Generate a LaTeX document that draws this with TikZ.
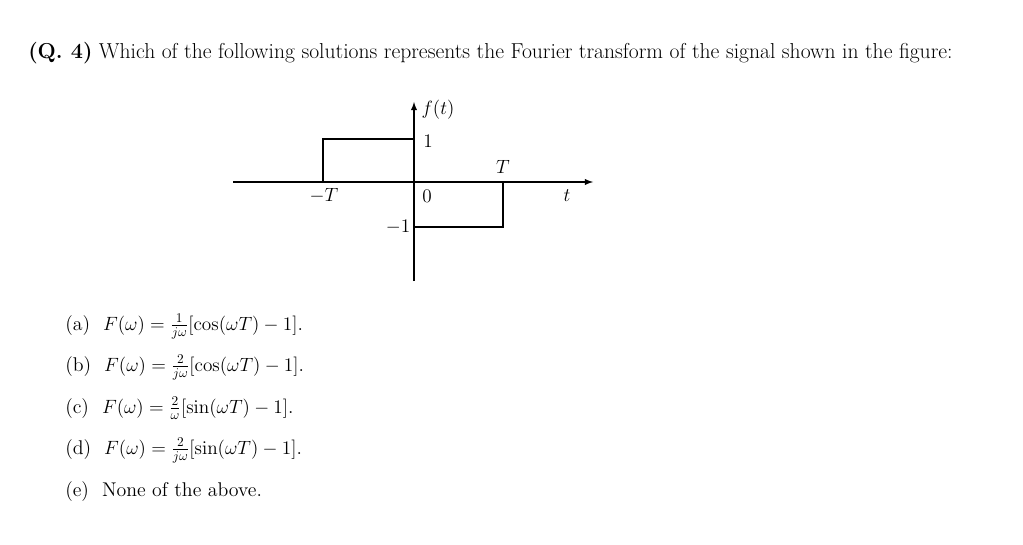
\documentclass[tikz,border=0pt]{standalone}
\usepackage{amsmath}
\begin{document}
\begin{tikzpicture}[x=0.75pt,y=-0.75pt,
  lbl/.style={inner sep=0pt,font=\fontsize{14.5}{17}\selectfont},
  opt/.style={anchor=base west,inner sep=0pt,font=\fontsize{14.9}{18}\selectfont}]
\useasboundingbox (0,0) rectangle (1023,545);
\node[opt,font=\fontsize{16.2}{19}\selectfont] (title) at (28,59) {\textbf{(Q. 4)} Which of the following solutions represents the Fourier transform of the signal shown in the figure:};
\coordinate (xl) at (233,182); \coordinate (xr) at (593,182);
\coordinate (yb) at (414,281); \coordinate (yt) at (414,102);
\draw[-latex,line width=1.1pt] (xl) -- (xr);
\draw[-latex,line width=1.1pt] (yb) -- (yt);
\coordinate (a) at (323,182); \coordinate (b) at (323,139); \coordinate (c) at (414,139);
\coordinate (d) at (414,227); \coordinate (e) at (503,227); \coordinate (f) at (503,182);
\draw[line width=1.1pt] (a) -- (b) -- (c);
\draw[line width=1.1pt] (d) -- (e) -- (f);
\node[lbl] (ft) at (438,110) {$f(t)$};
\node[lbl] (one) at (428,141) {$1$};
\node[lbl] (T) at (503,167) {$T$};
\node[lbl] (mT) at (324,196) {$-T$};
\node[lbl] (zero) at (427,196) {$0$};
\node[lbl] (t) at (567,196) {$t$};
\node[lbl] (m1) at (398,227) {$-1$};
\node[opt] (oa) at (65,330) {(a)\ \ $F(\omega)=\frac{1}{j\omega}[\cos(\omega T)-1]$.};
\node[opt] (ob) at (65,371) {(b)\ \ $F(\omega)=\frac{2}{j\omega}[\cos(\omega T)-1]$.};
\node[opt] (oc) at (65,413) {(c)\ \ $F(\omega)=\frac{2}{\omega}[\sin(\omega T)-1]$.};
\node[opt] (od) at (65,454) {(d)\ \ $F(\omega)=\frac{2}{j\omega}[\sin(\omega T)-1]$.};
\node[opt] (oe) at (65,496) {(e)\ \ None of the above.};
\end{tikzpicture}
\end{document}
